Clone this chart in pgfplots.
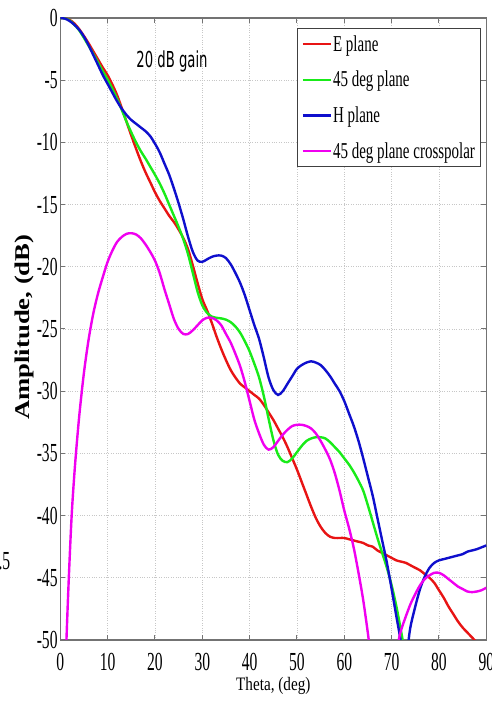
\documentclass[border=0pt]{standalone}
\usepackage{fontspec}
\usepackage{pgfplots}
\pgfplotsset{compat=1.18}
\setmainfont{Liberation Serif}
\newfontfamily\tickfont{Liberation Serif}[FakeStretch=0.6]
\newfontfamily\legfont{Liberation Serif}[FakeStretch=0.66]
\newfontfamily\labfont{Liberation Serif}[FakeStretch=0.8]
\newfontfamily\yfont{Liberation Serif Bold}[FakeStretch=1.27]
\newfontfamily\notefont{DejaVu Sans}[FakeStretch=0.6]

\definecolor{cE}{RGB}{232,20,20}
\definecolor{cD}{RGB}{25,235,25}
\definecolor{cH}{RGB}{15,15,205}
\definecolor{cX}{RGB}{240,0,240}

\begin{document}
\begin{tikzpicture}
\begin{axis}[
  name=ax,
  scale only axis, width=426pt, height=622pt,
  xmin=0, xmax=90, ymin=-50, ymax=0,
  xtick={0,10,...,90}, ytick={-50,-45,...,0},
  grid=major,
  major grid style={dotted, black!22, line width=0.6pt},
  axis line style={black!55, line width=1.2pt},
  tick style={black!55, line width=1pt}, major tick length=5pt,
  /pgf/number format/assume math mode=true,
  ticklabel style={font=\tickfont\fontsize{26}{28}\selectfont},
  xticklabel style={anchor=north, inner sep=0pt, yshift=-13pt},
  yticklabel style={anchor=east, inner sep=0pt, xshift=-2.5pt},
  xlabel={Theta, (deg)},
  xlabel style={font=\labfont\fontsize{19}{21}\selectfont,
    at={(axis description cs:0.5,0)}, anchor=north, inner sep=0pt, yshift=-37pt},
  ylabel={Amplitude, (dB)},
  ylabel style={font=\yfont\fontsize{21}{23}\selectfont,
    at={(axis description cs:-0.083,0.503)}, anchor=center, inner sep=0pt},
  legend cell align=left,
  legend style={at={(1,1)}, anchor=north east, xshift=-6pt, yshift=-10pt,
    draw=black!75, line width=0.7pt, fill=white,
    font=\legfont\fontsize{22.7}{25}\selectfont,
    inner xsep=4pt, inner ysep=6pt, row sep=16.5pt,
    nodes={inner sep=1pt}},
  legend image code/.code={\draw[#1] (0pt,0pt) -- (28pt,0pt);},
  every axis plot/.append style={line width=2.4pt, smooth},
]
% E plane
\addplot[cE] coordinates {
(0,0)(1,-0.03)(2,-0.15)(3,-0.45)(4,-0.9)(5,-1.45)(6,-2.05)(7,-2.7)(8,-3.35)(9,-4.0)
(10,-4.6)(11,-5.35)(12,-6.2)(13,-7.25)(14,-8.35)(15,-9.45)(16,-10.5)(17,-11.5)(18,-12.4)(19,-13.2)
(20,-14.0)(21,-14.7)(22,-15.3)(23,-15.9)(24,-16.4)(25,-17.0)(26,-17.7)(27,-18.6)(28,-19.9)(29,-21.3)
(30,-22.6)(31,-23.5)(32,-24.5)(33,-25.6)(34,-26.6)(35,-27.5)(36,-28.3)(37,-28.9)(38,-29.4)(39,-29.7)
(40,-30.0)(41,-30.3)(42,-30.6)(43,-31.1)(44,-31.7)(45,-32.3)(46,-33.0)(47,-33.7)(48,-34.5)(49,-35.4)
(50,-36.3)(51,-37.3)(52,-38.3)(53,-39.3)(54,-40.2)(55,-40.9)(56,-41.4)(57,-41.7)(58,-41.8)(59,-41.8)
(60,-41.8)(61,-41.9)(62,-42.0)(63,-42.1)(64,-42.2)(65,-42.4)(66,-42.5)(67,-42.8)(68,-43.0)(69,-43.2)
(70,-43.4)(71,-43.6)(72,-43.7)(73,-43.8)(74,-44.0)(75,-44.2)(76,-44.4)(77,-44.7)(78,-45.0)(79,-45.4)
(80,-46.0)(81,-46.6)(82,-47.3)(83,-47.9)(84,-48.5)(85,-49.0)(86,-49.4)(87,-49.8)(88,-50.2)(89,-50.6)(90,-51.0)
};
\addlegendentry{E plane}
% 45 deg plane
\addplot[cD] coordinates {
(0,0)(1,-0.04)(2,-0.2)(3,-0.55)(4,-1.0)(5,-1.6)(6,-2.25)(7,-2.9)(8,-3.6)(9,-4.3)
(10,-4.95)(11,-5.7)(12,-6.5)(13,-7.4)(14,-8.35)(15,-9.2)(16,-10.0)(17,-10.7)(18,-11.3)(19,-11.95)
(20,-12.6)(21,-13.3)(22,-14.1)(23,-15.0)(24,-15.9)(25,-16.8)(26,-17.8)(27,-19.0)(28,-20.5)(29,-22.0)
(30,-23.1)(31,-23.7)(32,-24.0)(33,-24.1)(34,-24.15)(35,-24.25)(36,-24.45)(37,-24.8)(38,-25.3)(39,-26.0)
(40,-26.8)(41,-27.8)(42,-28.9)(43,-30.4)(44,-32.2)(45,-33.9)(46,-35.1)(47,-35.6)(48,-35.7)(49,-35.4)
(50,-34.9)(51,-34.4)(52,-34.0)(53,-33.8)(54,-33.7)(55,-33.7)(56,-33.8)(57,-34.1)(58,-34.5)(59,-34.9)
(60,-35.4)(61,-35.9)(62,-36.5)(63,-37.2)(64,-38.0)(65,-39.2)(66,-40.5)(67,-41.8)(68,-43.0)(69,-44.2)
(70,-45.6)(71,-47.3)(72,-49.3)(72.6,-50.6)
};
\addlegendentry{45 deg plane}
% H plane
\addplot[cH] coordinates {
(0,0)(1,-0.05)(2,-0.25)(3,-0.55)(4,-0.95)(5,-1.5)(6,-2.2)(7,-3.0)(8,-3.8)(9,-4.6)
(10,-5.3)(11,-6.0)(12,-6.7)(13,-7.3)(14,-7.8)(15,-8.2)(16,-8.5)(17,-8.8)(18,-9.1)(19,-9.5)
(20,-10.1)(21,-10.8)(22,-11.7)(23,-12.6)(24,-13.7)(25,-14.9)(26,-16.2)(27,-17.6)(28,-18.8)(29,-19.5)
(30,-19.6)(31,-19.4)(32,-19.2)(33,-19.1)(34,-19.1)(35,-19.3)(36,-19.8)(37,-20.5)(38,-21.3)(39,-22.3)
(40,-23.5)(41,-24.7)(42,-25.8)(43,-27.3)(44,-28.9)(45,-29.9)(46,-30.3)(47,-30.0)(48,-29.4)(49,-28.8)
(50,-28.2)(51,-27.9)(52,-27.7)(53,-27.6)(54,-27.7)(55,-27.9)(56,-28.3)(57,-28.8)(58,-29.4)(59,-30.0)
(60,-30.8)(61,-31.8)(62,-32.8)(63,-34.0)(64,-35.4)(65,-36.9)(66,-38.4)(67,-40.2)(68,-42.0)(69,-43.8)
(70,-45.9)(71,-48.1)(72,-50.3)(72.8,-53.0)(73.5,-50.3)(74,-48.9)(75,-47.3)(76,-45.9)(77,-44.9)(78,-44.2)
(79,-43.8)(80,-43.6)(81,-43.5)(82,-43.4)(83,-43.3)(84,-43.2)(85,-43.1)(86,-42.9)(87,-42.8)(88,-42.7)
(89,-42.55)(90,-42.4)
};
\addlegendentry{H plane}
% 45 deg plane crosspolar
\addplot[cX] coordinates {
(1.1,-53)(1.3,-50)(1.8,-45)(2.4,-40)(3.1,-36)(4,-32)(5,-28.5)(6,-25.8)(7,-23.7)(8,-22.1)(9,-20.8)
(10,-19.6)(11,-18.7)(12,-18.0)(13,-17.6)(14,-17.35)(15,-17.3)(16,-17.4)(17,-17.7)(18,-18.2)(19,-18.8)
(20,-19.5)(21,-20.5)(22,-21.8)(23,-23.0)(24,-24.2)(25,-25.0)(26,-25.4)(27,-25.4)(28,-25.1)(29,-24.7)
(30,-24.3)(31,-24.1)(32,-24.1)(33,-24.3)(34,-24.7)(35,-25.4)(36,-26.1)(37,-27.0)(38,-28.0)(39,-29.3)
(40,-30.8)(41,-32.3)(42,-33.4)(43,-34.3)(44,-34.7)(45,-34.5)(46,-34.0)(47,-33.5)(48,-33.1)(49,-32.8)
(50,-32.7)(51,-32.7)(52,-32.8)(53,-33.0)(54,-33.4)(55,-34.0)(56,-34.7)(57,-35.5)(58,-36.6)(59,-38.0)
(60,-39.6)(61,-41.0)(62,-42.6)(63,-44.6)(64,-46.8)(65,-49.5)(65.3,-50.5)
};
\addlegendentry{45 deg plane crosspolar}
\addplot[cX, forget plot] coordinates {
(71.2,-51)(71.5,-50)(72,-49.2)(73,-48.1)(74,-47.1)(75,-46.3)(76,-45.6)(77,-45.1)(78,-44.8)(79,-44.6)
(80,-44.6)(81,-44.8)(82,-45.1)(83,-45.4)(84,-45.7)(85,-45.9)(86,-46.1)(87,-46.15)(88,-46.1)(89,-46.0)(90,-45.8)
};
\node[font=\notefont\fontsize{22}{24}\selectfont] at (axis cs:23.6,-3.5) {20 dB gain};
\end{axis}
\node[anchor=east, inner sep=0pt, font=\tickfont\fontsize{26}{28}\selectfont]
  at ([shift={(-49.8pt,79pt)}]ax.south west) {.5};
\pgfresetboundingbox
\path[use as bounding box] ([shift={(-60.3pt,-67pt)}]ax.south west) rectangle ([shift={(4.7pt,18pt)}]ax.north east);
\end{tikzpicture}
\end{document}
